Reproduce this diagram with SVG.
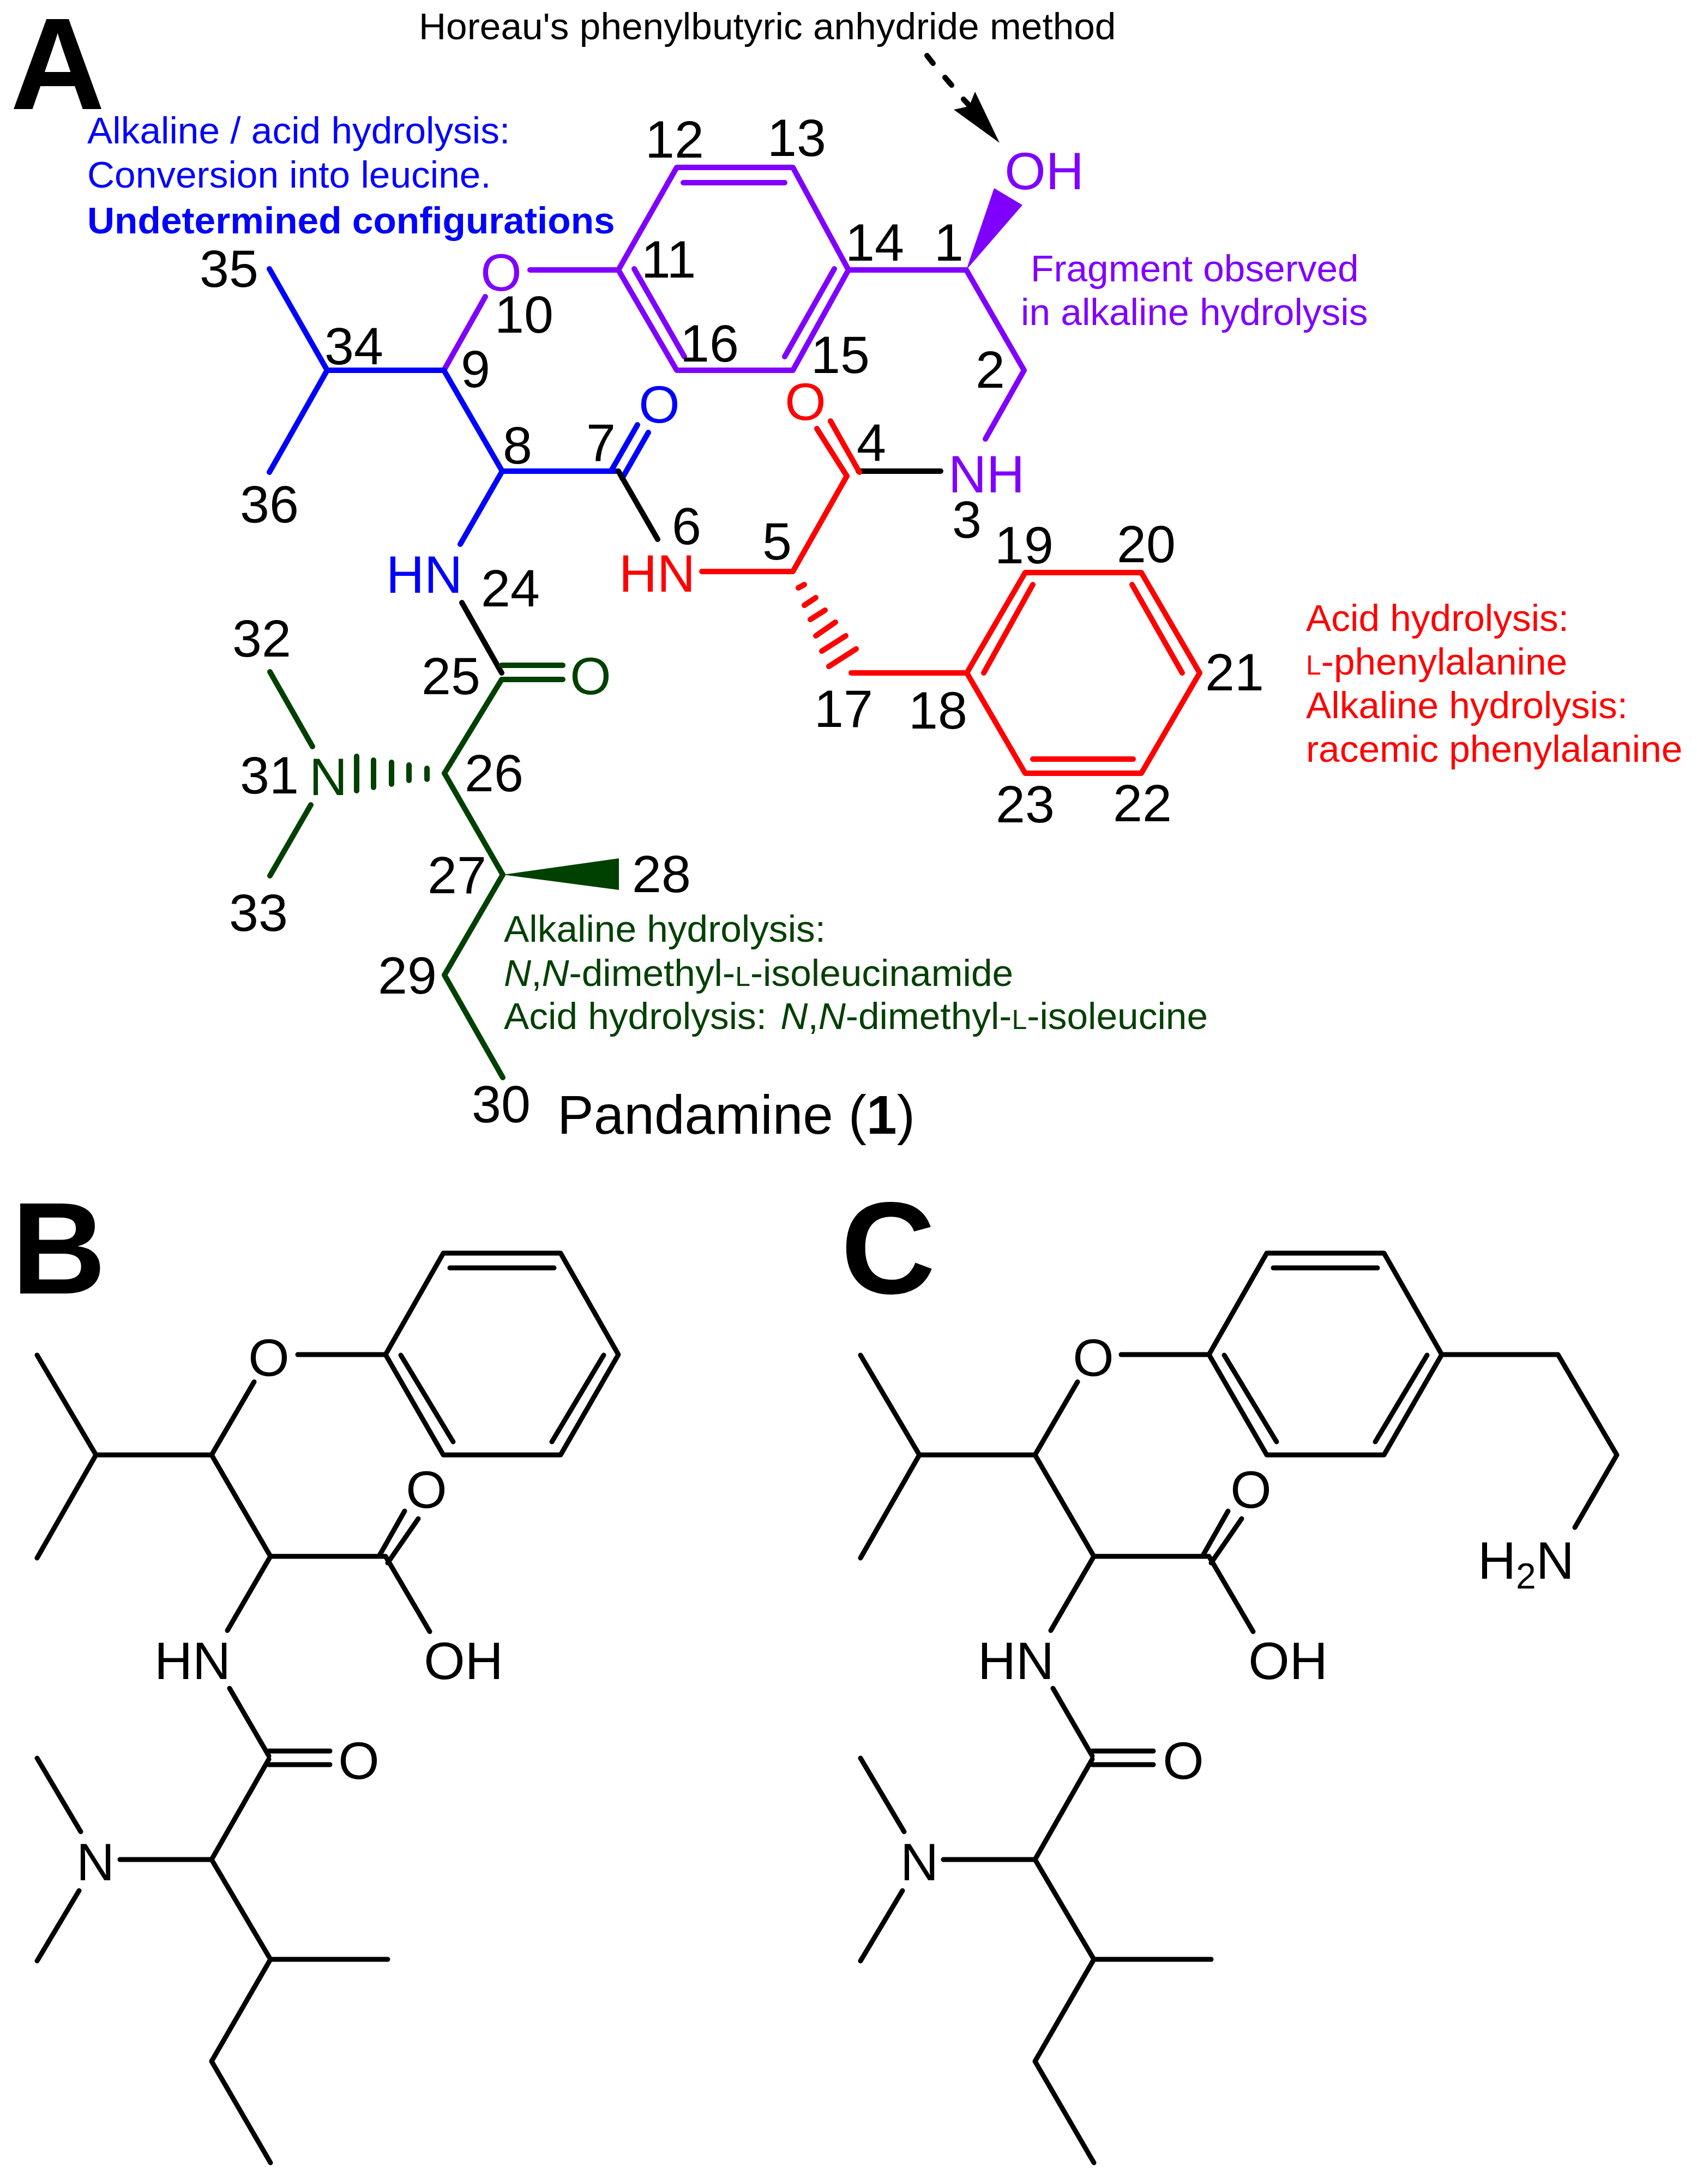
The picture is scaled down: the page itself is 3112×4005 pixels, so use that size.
<svg xmlns="http://www.w3.org/2000/svg" width="3112" height="4005" viewBox="0 0 3112 4005">
<style>
text{font-family:"Liberation Sans",Arial,sans-serif;font-size:97px;fill:#000}
.num{text-anchor:middle}
.at{text-anchor:middle}
.note{font-size:69.4px}
.pan{font-size:240px;font-weight:700}
.sc{font-size:50px}
.it{font-style:italic}
.bd{font-weight:700}
.bond path{fill:none;stroke-width:10;stroke-linecap:round;stroke-linejoin:round}
.bond2 path{fill:none;stroke:#000;stroke-width:9;stroke-linecap:round;stroke-linejoin:round}
.P{stroke:#8000ff}.B{stroke:#0000ff}.R{stroke:#ff0000}.G{stroke:#004000}.K{stroke:#000}
.fP{fill:#8000ff}.fB{fill:#0000ff}.fR{fill:#ff0000}.fG{fill:#004000}
</style>
<rect width="3112" height="4005" fill="#fff"/>
<g id="connectors-A" class="bond">
<path class="P" d="M1134 495L1241 307H1454L1556 495L1454 679H1241ZM1253 335H1439M1163 493L1255 654M1530 493L1439 654M972 495H1134M814 679L890 544M1556 495H1772L1878 679L1807 805"/>
<path class="B" d="M494 493L600 679L494 866M600 679H814L921 864H1130M921 864L844 998M1169 779L1121 863M1189 793L1141 877"/>
<path class="K" d="M1134 864L1206 989M1574 864H1725M847 1105L920 1234"/>
<path class="R" d="M1287 1048H1454L1553 873L1498 786M1523 772L1576 866M1561 1234H1773L1880 1050H2093L2200 1234L2093 1418H1880L1773 1234M1894 1072L1804 1234M2076 1072L2168 1234M1894 1392H2078M1464 1078L1475 1072M1475 1110L1496 1096M1486 1136L1513 1119M1496 1166L1532 1141M1507 1194L1551 1166M1520 1222L1570 1190"/>
<path class="G" d="M920 1220H1032M920 1246H1032M920 1246L815 1418L922 1604L815 1788L922 1976M495 1232L573 1369M495 1606L570 1476M783 1409V1429M750 1403V1431M718 1398V1438M685 1394V1444M654 1387V1450"/>
<path class="K" d="M1700 102L1711 116M1733 142L1745 156M1767 182L1777 193"/>
</g>
<g id="wedges">
<path class="fP" d="M1772 495L1823 345L1875 376Z"/>
<path class="fG" d="M922 1604L1135 1574V1632Z"/>
<path d="M1833 262L1788 168L1780 188L1772 196L1749 201Z"/>
</g>
<g id="panel-label-A"><text class="pan" x="19" y="200">A</text></g>
<g id="annotation-horeau"><text class="note" x="768" y="72">Horeau's phenylbutyric anhydride method</text></g>
<g id="annotation-blue">
<text class="note fB" x="160" y="263">Alkaline / acid hydrolysis:</text>
<text class="note fB" x="160" y="344">Conversion into leucine.</text>
<text class="note fB bd" x="160" y="428">Undetermined configurations</text>
</g>
<g id="annotation-purple">
<text class="note fP" x="1890" y="516">Fragment observed</text>
<text class="note fP" x="1872" y="596">in alkaline hydrolysis</text>
</g>
<g id="annotation-red">
<text class="note fR" x="2395" y="1157">Acid hydrolysis:</text>
<text class="note fR" x="2395" y="1237"><tspan class="sc">L</tspan>-phenylalanine</text>
<text class="note fR" x="2395" y="1317">Alkaline hydrolysis:</text>
<text class="note fR" x="2395" y="1397">racemic phenylalanine</text>
</g>
<g id="annotation-green">
<text class="note fG" x="924" y="1727">Alkaline hydrolysis:</text>
<text class="note fG" x="924" y="1808"><tspan class="it">N</tspan>,<tspan class="it">N</tspan>-dimethyl-<tspan class="sc">L</tspan>-isoleucinamide</text>
<text class="note fG" x="924" y="1887">Acid hydrolysis: <tspan class="it" dx="6">N</tspan>,<tspan class="it">N</tspan>-dimethyl-<tspan class="sc">L</tspan>-isoleucine</text>
</g>
<g id="title-pandamine"><text x="1022" y="2079" style="font-size:100px">Pandamine (<tspan class="bd">1</tspan>)</text></g>
<g id="atom-O-ether"><text class="at fP" x="919" y="533">O</text></g>
<g id="atom-O-7"><text class="at fB" x="1209" y="775">O</text></g>
<g id="atom-O-4"><text class="at fR" x="1477" y="770">O</text></g>
<g id="atom-HN-24"><text class="at fB" x="778" y="1087">HN</text></g>
<g id="atom-HN-6"><text class="at fR" x="1205" y="1085">HN</text></g>
<g id="atom-OH"><text class="at fP" x="1915" y="347">OH</text></g>
<g id="atom-NH"><text class="at fP" x="1809" y="903">NH</text></g>
<g id="atom-O-25"><text class="at fG" x="1083" y="1273">O</text></g>
<g id="atom-N-31"><text class="at fG" x="602" y="1458">N</text></g>
<g id="locants">
<text class="num" x="1740" y="478">1</text><text class="num" x="1816" y="711">2</text><text class="num" x="1773" y="986">3</text><text class="num" x="1598" y="845">4</text><text class="num" x="1425" y="1026">5</text><text class="num" x="1259" y="998">6</text><text class="num" x="1102" y="845">7</text><text class="num" x="949" y="850">8</text><text class="num" x="872" y="710">9</text><text class="num" x="961" y="610">10</text><text class="num" x="1226" y="509">11</text><text class="num" x="1237" y="289">12</text><text class="num" x="1461" y="286">13</text><text class="num" x="1604" y="478">14</text><text class="num" x="1541" y="684">15</text><text class="num" x="1301" y="663">16</text><text class="num" x="1547" y="1333">17</text><text class="num" x="1720" y="1336">18</text><text class="num" x="1878" y="1033">19</text><text class="num" x="2102" y="1031">20</text><text class="num" x="2264" y="1266">21</text><text class="num" x="2095" y="1506">22</text><text class="num" x="1880" y="1508">23</text><text class="num" x="936" y="1112">24</text><text class="num" x="827" y="1273">25</text><text class="num" x="906" y="1451">26</text><text class="num" x="838" y="1638">27</text><text class="num" x="1213" y="1636">28</text><text class="num" x="747" y="1822">29</text><text class="num" x="919" y="2058">30</text><text class="num" x="494" y="1455">31</text><text class="num" x="480" y="1204">32</text><text class="num" x="474" y="1707">33</text><text class="num" x="649" y="668">34</text><text class="num" x="420" y="526">35</text><text class="num" x="494" y="958">36</text>
</g>
<g id="panel-label-B"><text class="pan" x="21" y="2372">B</text></g>
<g id="connectors-B" class="bond2"><path d="M707 2484L813 2298H1028L1134 2484L1028 2668H813ZM825 2325H1016M735 2485L831 2644M1107 2485L1012 2644M546 2484H707M388 2668L466 2534M68 2485L176 2668L68 2857M176 2668H388L496 2854H707M695 2854L742 2771M711 2866L767 2785M707 2854L788 2992M496 2854L417 2990M421 3096L493 3220M493 3211H605M493 3236H605M493 3226L388 3410H220M68 3224L148 3359M68 3596L145 3467M388 3410L496 3593H711M496 3593L388 3780L496 3966"/></g>
<g id="atoms-B">
<g id="B-O-ether"><text class="at" x="493" y="2523">O</text></g>
<g id="B-O-acid"><text class="at" x="782" y="2765">O</text></g>
<g id="B-OH"><text class="at" x="850" y="3079">OH</text></g>
<g id="B-HN"><text class="at" x="353" y="3079">HN</text></g>
<g id="B-O-amide"><text class="at" x="658" y="3262">O</text></g>
<g id="B-N"><text class="at" x="175" y="3448">N</text></g>
</g>
<g id="panel-label-C"><text class="pan" x="1542" y="2372">C</text></g>
<g id="connectors-C" class="bond2"><path transform="translate(1510 0)" d="M707 2484L813 2298H1028L1134 2484L1028 2668H813ZM825 2325H1016M735 2485L831 2644M1107 2485L1012 2644M546 2484H707M388 2668L466 2534M68 2485L176 2668L68 2857M176 2668H388L496 2854H707M695 2854L742 2771M711 2866L767 2785M707 2854L788 2992M496 2854L417 2990M421 3096L493 3220M493 3211H605M493 3236H605M493 3226L388 3410H220M68 3224L148 3359M68 3596L145 3467M388 3410L496 3593H711M496 3593L388 3780L496 3966M1134 2484H1347L1455 2668L1378 2801"/></g>
<g id="atoms-C" transform="translate(1510 0)">
<g id="C-O-ether"><text class="at" x="495" y="2523">O</text></g>
<g id="C-O-acid"><text class="at" x="784" y="2765">O</text></g>
<g id="C-OH"><text class="at" x="852" y="3079">OH</text></g>
<g id="C-HN"><text class="at" x="353" y="3079">HN</text></g>
<g id="C-O-amide"><text class="at" x="660" y="3262">O</text></g>
<g id="C-N"><text class="at" x="176" y="3448">N</text></g>
<g id="C-H2N"><text x="1200" y="2895">H<tspan font-size="66" dy="18">2</tspan><tspan dy="-18">N</tspan></text></g>
</g>
</svg>
